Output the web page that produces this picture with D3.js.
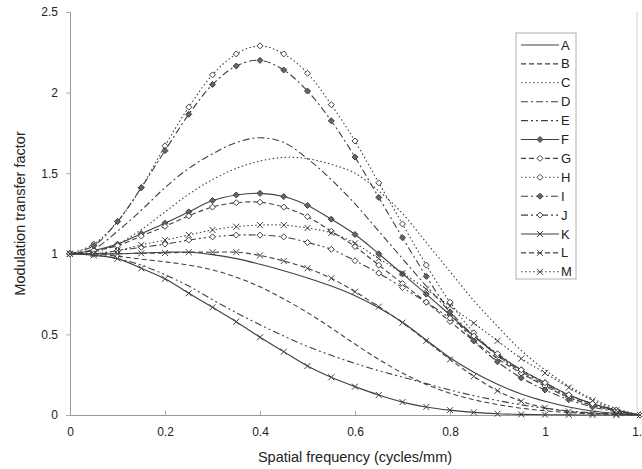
<!DOCTYPE html>
<html lang="en">
<head>
    <meta charset="UTF-8">
    <title>MTF</title>
    <style>
        body { margin: 0; background: #fff; }
        svg { display: block; font-family: "Liberation Sans", Arial, sans-serif; }
    </style>
</head>
<body>
    <script src="https://d3js.org/d3.v7.min.js"></script>
    <script>
        const freq = [0, 0.05, 0.1, 0.15, 0.2, 0.25, 0.3, 0.35, 0.4, 0.45, 0.5, 0.55, 0.6,
            0.65, 0.7, 0.75, 0.8, 0.85, 0.9, 0.95, 1.0, 1.05, 1.1, 1.15, 1.2]

        const seriesA = [1, 1.0, 1.0, 1.005, 1.01, 1.01, 0.995, 0.97, 0.935, 0.895, 0.85, 0.8, 0.74, 0.665, 0.575, 0.465, 0.355, 0.265, 0.19, 0.13, 0.085, 0.05, 0.025, 0.01, 0]
        const seriesB = [1, 1.0, 0.985, 0.967, 0.95, 0.93, 0.9, 0.855, 0.795, 0.72, 0.635, 0.54, 0.44, 0.345, 0.26, 0.19, 0.135, 0.095, 0.065, 0.042, 0.026, 0.015, 0.008, 0.003, 0]
        const seriesC = [1, 1.01, 1.06, 1.15, 1.26, 1.37, 1.46, 1.53, 1.575, 1.598, 1.59, 1.555, 1.5, 1.39, 1.25, 1.07, 0.89, 0.71, 0.55, 0.4, 0.28, 0.18, 0.1, 0.04, 0]
        const seriesD = [1, 1.03, 1.14, 1.27, 1.41, 1.53, 1.62, 1.69, 1.72, 1.69, 1.59, 1.46, 1.31, 1.14, 0.97, 0.8, 0.64, 0.49, 0.37, 0.27, 0.19, 0.12, 0.07, 0.03, 0]
        const seriesE = [1, 0.995, 0.97, 0.93, 0.87, 0.8, 0.715, 0.635, 0.56, 0.49, 0.425, 0.37, 0.32, 0.275, 0.235, 0.195, 0.155, 0.12, 0.09, 0.063, 0.042, 0.025, 0.013, 0.005, 0]
        const seriesF = [1, 1.02, 1.06, 1.125, 1.19, 1.26, 1.33, 1.365, 1.375, 1.355, 1.3, 1.215, 1.12, 1.0, 0.875, 0.75, 0.62, 0.49, 0.375, 0.28, 0.2, 0.125, 0.07, 0.03, 0]
        const seriesG = [1, 1.02, 1.05, 1.11, 1.17, 1.235, 1.29, 1.317, 1.32, 1.29, 1.23, 1.14, 1.045, 0.93, 0.815, 0.7, 0.58, 0.46, 0.35, 0.26, 0.18, 0.11, 0.06, 0.025, 0]
        const seriesH = [1, 1.06, 1.2, 1.41, 1.67, 1.91, 2.11, 2.24, 2.29, 2.24, 2.12, 1.925, 1.7, 1.44, 1.185, 0.93, 0.7, 0.51, 0.37, 0.26, 0.18, 0.11, 0.06, 0.025, 0]
        const seriesI = [1, 1.05, 1.2, 1.41, 1.64, 1.865, 2.05, 2.165, 2.2, 2.14, 2.01, 1.825, 1.6, 1.35, 1.1, 0.86, 0.64, 0.46, 0.33, 0.23, 0.155, 0.095, 0.05, 0.02, 0]
        const seriesJ = [1, 1.0, 1.02, 1.04, 1.06, 1.085, 1.105, 1.116, 1.116, 1.105, 1.07, 1.028, 0.957, 0.88, 0.79, 0.7, 0.6, 0.49, 0.38, 0.28, 0.2, 0.125, 0.07, 0.03, 0]
        const seriesK = [1, 0.99, 0.97, 0.91, 0.845, 0.755, 0.668, 0.579, 0.482, 0.393, 0.304, 0.234, 0.176, 0.124, 0.08, 0.05, 0.03, 0.016, 0.008, 0.004, 0.002, 0.001, 0, 0, 0]
        const seriesL = [1, 1.0, 1.0, 1.003, 1.005, 1.01, 1.01, 1.01, 0.99, 0.955, 0.91, 0.848, 0.765, 0.672, 0.573, 0.46, 0.345, 0.24, 0.15, 0.085, 0.045, 0.022, 0.01, 0.004, 0]
        const seriesM = [1, 1.0, 1.02, 1.055, 1.085, 1.117, 1.148, 1.168, 1.178, 1.178, 1.16, 1.13, 1.065, 0.97, 0.88, 0.78, 0.675, 0.57, 0.46, 0.35, 0.26, 0.17, 0.09, 0.03, 0]

        const names = ['A', 'B', 'C', 'D', 'E', 'F', 'G', 'H', 'I', 'J', 'K', 'L', 'M']
        const values = [seriesA, seriesB, seriesC, seriesD, seriesE, seriesF, seriesG,
            seriesH, seriesI, seriesJ, seriesK, seriesL, seriesM]

        const xTicks = [0, 0.2, 0.4, 0.6, 0.8, 1, 1.2]
        const yTicks = [0, 0.5, 1, 1.5, 2, 2.5]

        // line dash + marker for each series
        const dashes = {
            solid: null,
            dash: '5,3',
            dot: '1.5,2.5',
            dashDot: '7,3,2,3',
            dashDotDot: '7,3,2,3,2,3'
        }
        const styles = {
            A: ['solid', null], B: ['dash', null], C: ['dot', null], D: ['dashDot', null], E: ['dashDotDot', null],
            F: ['solid', 'diamondFill'], G: ['dash', 'diamond'], H: ['dot', 'diamond'], I: ['dashDot', 'diamondFill'],
            J: ['dashDotDot', 'diamond'], K: ['solid', 'cross'], L: ['dash', 'cross'], M: ['dot', 'cross']
        }

        const width = 642
        const height = 469
        const margin = { left: 70, right: 2, top: 12, bottom: 54 }
        const ink = '#404040'

        const svg = d3.select('body')
            .append('svg')
            .attr('width', width)
            .attr('height', height)

        const x = d3.scaleLinear().domain([0, 1.2]).range([margin.left, width - margin.right])
        const y = d3.scaleLinear().domain([0, 2.5]).range([height - margin.bottom, margin.top])

        // frame: right edge line
        svg.append('line')
            .attr('x1', x(1.2) - 3).attr('x2', x(1.2) - 3)
            .attr('y1', y(2.5)).attr('y2', y(0))
            .attr('stroke', '#d0d0d0')

        const xAxis = svg.append('g')
            .attr('transform', `translate(0,${y(0)})`)
            .call(d3.axisBottom(x).tickValues(xTicks).tickSize(-4).tickPadding(12).tickFormat(d3.format('')))
        const yAxis = svg.append('g')
            .attr('transform', `translate(${x(0)},0)`)
            .call(d3.axisLeft(y).tickValues(yTicks).tickSize(4).tickPadding(8).tickFormat(d3.format('')))

        for (const ax of [xAxis, yAxis]) {
            ax.select('.domain').attr('stroke', '#999')
            ax.selectAll('.tick line').attr('stroke', '#aaa')
            ax.selectAll('.tick text').attr('fill', '#222').style('font-size', '12px')
        }

        svg.append('text')
            .attr('x', (x(0) + x(1.2)) / 2)
            .attr('y', 462)
            .attr('text-anchor', 'middle')
            .attr('fill', '#222')
            .style('font-size', '14.5px')
            .text('Spatial frequency (cycles/mm)')

        svg.append('text')
            .attr('transform', `translate(25,${(y(0) + y(2.5)) / 2}) rotate(-90)`)
            .attr('text-anchor', 'middle')
            .attr('fill', '#222')
            .style('font-size', '14.5px')
            .text('Modulation transfer factor')

        const line = d3.line()
            .x((d, i) => x(freq[i]))
            .y(d => y(d))
            .curve(d3.curveCatmullRom.alpha(0.5))

        function drawMarker(g, type, cx, cy) {
            if (!type) return
            if (type === 'cross') {
                g.append('path')
                    .attr('d', `M${cx - 3},${cy - 3}L${cx + 3},${cy + 3}M${cx - 3},${cy + 3}L${cx + 3},${cy - 3}`)
                    .attr('stroke', ink).attr('stroke-width', 1)
            } else {
                g.append('path')
                    .attr('d', `M${cx},${cy - 3}L${cx + 3},${cy}L${cx},${cy + 3}L${cx - 3},${cy}Z`)
                    .attr('fill', type === 'diamondFill' ? '#666' : '#fff')
                    .attr('stroke', ink).attr('stroke-width', 1)
            }
        }

        const plot = svg.append('g')
        names.forEach((name, k) => {
            const [dash, marker] = styles[name]
            plot.append('path')
                .attr('d', line(values[k]))
                .attr('fill', 'none')
                .attr('stroke', ink)
                .attr('stroke-width', 1.1)
                .attr('stroke-dasharray', dashes[dash])
            const mg = plot.append('g')
            values[k].forEach((v, i) => drawMarker(mg, marker, x(freq[i]), y(v)))
        })

        // legend
        const legend = svg.append('g').attr('transform', 'translate(516,33)')
        legend.append('rect')
            .attr('width', 60).attr('height', 246)
            .attr('fill', '#fff').attr('stroke', '#b0b0b0')
        names.forEach((name, k) => {
            const [dash, marker] = styles[name]
            const ly = 12 + k * 18.9
            const g = legend.append('g')
            g.append('line')
                .attr('x1', 5).attr('x2', 43)
                .attr('y1', ly).attr('y2', ly)
                .attr('stroke', ink).attr('stroke-width', 1.1)
                .attr('stroke-dasharray', dashes[dash])
            drawMarker(g, marker, 24, ly)
            g.append('text')
                .attr('x', 45).attr('y', ly + 4.5)
                .attr('fill', '#222')
                .style('font-size', '13px')
                .text(name)
        })
    </script>
</body>
</html>
